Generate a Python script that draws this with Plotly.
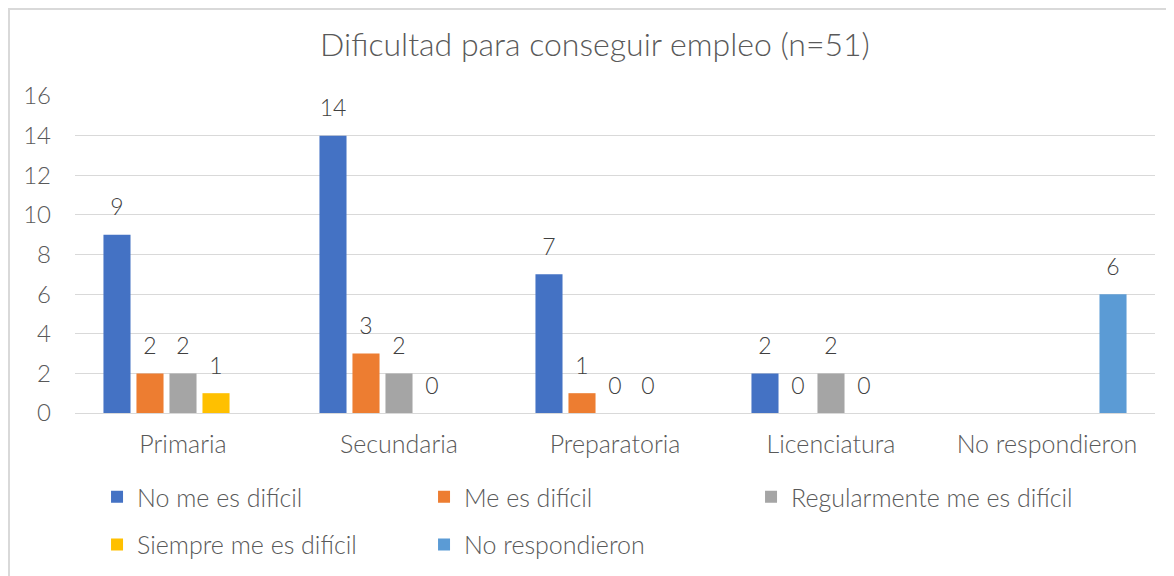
import plotly.graph_objects as go

categorias = ["Primaria", "Secundaria", "Preparatoria", "Licenciatura", "No respondieron"]

no_me_es_dificil = [9, 14, 7, 2, None]
me_es_dificil = [2, 3, 1, 0, None]
regularmente = [2, 2, 0, 2, None]
siempre = [1, 0, 0, 0, None]
no_respondieron = [None, None, None, None, 6]

series = [
    ("No me es difícil", no_me_es_dificil, "#4472C4", "legend"),
    ("Me es difícil", me_es_dificil, "#ED7D31", "legend"),
    ("Regularmente me es difícil", regularmente, "#A5A5A5", "legend"),
    ("Siempre me es difícil", siempre, "#FFC000", "legend2"),
    ("No respondieron", no_respondieron, "#5B9BD5", "legend2"),
]

FONT = "Lato"
GRIS = "#595959"


def etiqueta(v):
    # numero + linea invisible debajo para separar la etiqueta de la barra
    if v is None:
        return ""
    return ("<span style='font-size:23px'>%d</span><br>"
            "<span style='color:rgba(0,0,0,0)'>.</span>" % v)


fig = go.Figure()
for nombre, valores, color, leg in series:
    fig.add_trace(go.Bar(
        x=categorias, y=valores, name=nombre,
        marker=dict(color=color, line=dict(width=0)),
        text=[etiqueta(v) for v in valores],
        textposition="outside", cliponaxis=False,
        textfont=dict(size=11, color="#404040", family=FONT, weight=300),
        legend=leg,
    ))

leg_common = dict(
    orientation="h", xanchor="left", yanchor="middle",
    entrywidth=282, entrywidthmode="pixels",
    font=dict(size=25, color=GRIS, family=FONT, weight=300),
    itemclick=False, bgcolor="rgba(0,0,0,0)",
)

# la pagina deja 8px de margen, el grafico se ajusta a eso
fig.update_layout(
    width=1166, height=568,
    margin=dict(l=67, r=19, t=88, b=163, autoexpand=False),
    paper_bgcolor="white", plot_bgcolor="white",
    font=dict(family=FONT, color=GRIS),
    title=dict(text="Dificultad para conseguir empleo (n=51)",
               x=0.5034, xref="container", xanchor="center",
               y=0.935, yref="container", yanchor="middle",
               font=dict(size=32, color=GRIS, family=FONT, weight=300)),
    barmode="group", bargap=0.236, bargroupgap=0.18,
    legend=dict(x=0.0204, y=-0.265, **leg_common),
    legend2=dict(x=0.0204, y=-0.416, **leg_common),
    xaxis=dict(tickfont=dict(size=25, color=GRIS, family=FONT, weight=300),
               showline=True, linecolor="#D9D9D9", linewidth=1,
               ticks="", ticklabelstandoff=9),
    yaxis=dict(range=[0, 16], dtick=2, showgrid=True, gridcolor="#D9D9D9",
               gridwidth=1, zeroline=False, ticks="",
               tickfont=dict(size=24, color=GRIS, family=FONT, weight=300),
               ticklabelstandoff=23),
    shapes=[dict(type="rect", xref="paper", yref="paper",
                 x0=-66 / 1080, x1=1 + 30 / 1080, y0=-175 / 317, y1=1 + 87 / 317,
                 line=dict(color="#D9D9D9", width=2))],
)

fig.write_html("out.html")
